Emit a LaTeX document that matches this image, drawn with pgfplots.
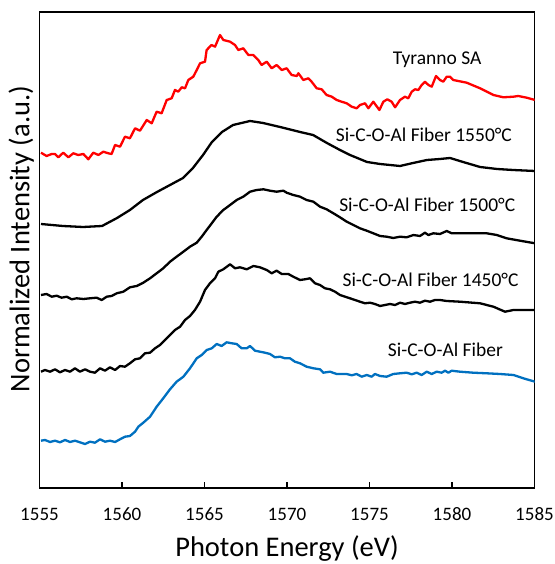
\documentclass[border=0pt]{standalone}
\usepackage{fontspec}
\setmainfont{Carlito}
\usepackage{pgfplots}
\pgfplotsset{compat=1.18}
\definecolor{xblue}{RGB}{0,112,192}
\definecolor{xred}{RGB}{255,0,0}

\begin{document}
\begin{tikzpicture}
\useasboundingbox (-39.5pt,-76pt) rectangle (514.5pt,488pt);
\begin{axis}[
  scale only axis, width=495pt, height=476pt,
  xmin=1555, xmax=1585, ymin=0, ymax=476,
  xtick={1555,1560,...,1585}, ytick=\empty,
  xtick pos=bottom, tick align=inside, major tick length=6pt,
  axis line style={line width=1.2pt},
  every tick/.style={black, line width=1.2pt},
  /pgf/number format/assume math mode=true,
  /pgf/number format/1000 sep={},
  xticklabel style={font=\fontsize{19}{19}\selectfont, anchor=base, yshift=-32pt},
  xlabel={Photon Energy (eV)},
  ylabel={Normalized Intensity (a.u.)},
  label style={font=\fontsize{28.5}{30}\selectfont},
  xlabel style={at={(axis description cs:0.5,0)}, anchor=base, yshift=-68pt},
  ylabel style={at={(axis description cs:-0.004,0.523)}, anchor=south},
  every axis plot/.append style={line width=2.3pt, line join=round},
]
% Tyranno SA
\addplot[xred] coordinates {
(1555.09,335.3)(1555.43,332)(1555.74,334)(1555.94,334)(1556.14,330.7)(1556.44,335.3)
(1556.75,330.7)(1557.05,334.7)(1557.35,333)(1557.66,334)(1557.96,328.7)(1558.26,335.3)
(1558.57,333)(1558.87,336.3)(1559.17,334.7)(1559.37,334)(1559.58,343)(1559.88,341.3)
(1560.18,351.3)(1560.48,349.7)(1560.79,359.7)(1561.09,357.3)(1561.50,368)(1561.80,364.7)
(1562.10,376.3)(1562.40,374.7)(1562.71,388)(1563.01,389.7)(1563.21,398)(1563.41,396.3)
(1563.62,400.7)(1563.82,399.7)(1564.02,408)(1564.32,411.3)(1564.53,418)(1564.73,424.7)
(1565.03,426.3)(1565.13,438)(1565.43,443)(1565.64,441.3)(1565.94,453)(1566.14,448)
(1566.55,446.3)(1566.85,443)(1567.05,438)(1567.35,439.7)(1567.66,433)(1567.96,433)
(1568.26,428)(1568.46,423)(1568.77,426.3)(1569.07,419.7)(1569.37,423)(1569.68,418)
(1569.98,419.7)(1570.28,413)(1570.59,412)(1570.69,414.7)(1570.99,408)(1571.29,409.7)
(1571.49,406.3)(1571.80,399.7)(1572.10,398.7)(1572.40,393)(1572.71,391.3)(1573.01,388)
(1573.31,386.3)(1573.62,384.7)(1573.92,381.3)(1574.22,379.7)(1574.42,383)(1574.73,384.7)
(1574.93,379.7)(1575.23,386.3)(1575.60,378)(1575.84,386.3)(1576.08,388.7)(1576.34,386.3)
(1576.55,380.7)(1576.85,388)(1577.15,391.3)(1577.35,389.7)(1577.56,396.3)(1577.76,398.7)
(1577.96,398)(1578.16,403)(1578.36,406.3)(1578.57,403)(1578.77,401.3)(1579.03,412)
(1579.27,408)(1579.47,406.3)(1579.68,411.3)(1579.88,411.3)(1580.08,408)(1580.89,405.3)
(1581.70,399.7)(1582.51,393)(1583.11,390.7)(1583.72,391.3)(1584.02,392)(1584.53,390.3)
(1585.03,388)
};
% 1550
\addplot[black] coordinates {
(1555.09,264)(1556.42,262)(1557.64,261)(1558.79,262)(1559.70,270)(1560.48,278)
(1561.27,288)(1562.12,296)(1562.91,303)(1563.70,310)(1564.30,320)(1564.91,333)
(1565.45,346)(1566.06,356)(1566.73,363)(1567.76,367)(1568.55,365)(1569.58,361)
(1570.79,356)(1571.58,353)(1572.42,345)(1573.21,338)(1573.82,333)(1574.85,326)
(1575.64,324)(1576.85,322)(1577.64,325)(1578.48,328)(1579.27,329)(1579.88,330)
(1580.67,326)(1581.70,321)(1582.73,319)(1583.70,318)(1585.03,317)
};
% 1500
\addplot[black] coordinates {
(1555.09,193)(1555.43,194)(1555.74,191.3)(1556.04,192.3)(1556.34,190.3)(1556.65,191.3)
(1556.95,188.7)(1557.25,189.7)(1557.66,189)(1558.06,189.7)(1558.46,190.3)(1558.77,188)
(1559.07,191.3)(1559.37,192)(1559.68,194.7)(1560.08,196.3)(1560.48,200.7)(1560.89,202)
(1561.29,205.3)(1561.70,209.7)(1562.10,214.7)(1562.50,219.7)(1562.91,226.3)(1563.31,231.3)
(1563.72,236.3)(1564.12,241.3)(1564.53,245.3)(1564.83,251.3)(1565.13,258)(1565.44,264.7)
(1565.74,271.3)(1566.14,278)(1566.55,283)(1566.95,288)(1567.35,291.3)(1567.76,296.3)
(1568.16,298)(1568.57,298.7)(1568.97,297.3)(1569.37,296.3)(1569.78,297.3)(1569.98,295.3)
(1570.38,293)(1570.79,291.3)(1571.19,288)(1571.60,286.3)(1572.00,281.3)(1572.40,278.7)
(1572.81,274.7)(1573.21,270.7)(1573.62,266.3)(1574.02,263)(1574.42,259.7)(1574.83,257.3)
(1575.23,254.7)(1575.64,252)(1576.04,251.3)(1576.44,250)(1576.85,251.3)(1577.25,250.7)
(1577.66,253)(1578.06,252)(1578.36,255.3)(1578.57,253)(1578.87,254.7)(1579.27,254)
(1579.68,257)(1579.98,254.7)(1580.48,254.7)(1581.29,254.7)(1582.10,254.7)(1582.71,253)
(1583.31,249.7)(1584.12,247.3)(1585.03,244.7)
};
% 1450
\addplot[black] coordinates {
(1555.09,116.3)(1555.33,118)(1555.64,116.3)(1555.94,118.7)(1556.24,115.7)(1556.55,118)
(1556.85,116.3)(1557.15,119.7)(1557.45,116.3)(1557.76,118.7)(1558.06,116.3)(1558.36,115.3)
(1558.67,119.7)(1558.97,117.3)(1559.27,120.7)(1559.58,118)(1559.88,122)(1560.18,121.3)
(1560.48,124.7)(1560.79,128.7)(1561.09,129.7)(1561.39,134.7)(1561.70,135.3)(1562.00,139.7)
(1562.30,143)(1562.61,148)(1562.91,153)(1563.21,158)(1563.52,161.3)(1563.82,168)
(1564.12,172)(1564.42,178)(1564.73,186.3)(1565.03,198)(1565.33,204.7)(1565.64,209.7)
(1565.84,216.3)(1566.14,218.7)(1566.55,223.7)(1566.85,219.7)(1567.15,220.7)(1567.56,218.7)
(1567.96,222)(1568.36,220.7)(1568.77,218)(1569.07,214.7)(1569.37,217.3)(1569.68,214)
(1570.08,214)(1570.38,211.3)(1570.79,208)(1571.09,208.7)(1571.39,209.7)(1571.70,204.7)
(1572.00,203)(1572.30,199.7)(1572.61,198.7)(1572.91,196.3)(1573.21,193)(1573.52,191.3)
(1573.82,189.7)(1574.12,188)(1574.42,186.3)(1574.73,184.7)(1575.03,185.3)(1575.33,184)
(1575.64,182)(1575.94,183)(1576.24,184)(1576.55,183)(1576.85,185.3)(1577.15,184)
(1577.45,185.3)(1577.76,186.3)(1578.06,185.3)(1578.36,187.3)(1578.67,186.3)(1578.97,188)
(1579.27,188)(1579.68,187)(1580.48,186.3)(1581.70,184.7)(1582.51,181.3)(1583.21,176.3)
(1583.72,178)(1585.03,178)
};
% Si-C-O-Al Fiber
\addplot[xblue] coordinates {
(1555.09,47.3)(1555.33,48)(1555.64,46)(1555.94,47.3)(1556.24,45.7)(1556.55,48)
(1556.85,46)(1557.15,47.3)(1557.45,45.7)(1557.76,44)(1558.06,46.3)(1558.36,45.3)
(1558.67,48.7)(1558.97,46.3)(1559.27,47.3)(1559.58,46)(1559.88,48.7)(1560.18,51.3)
(1560.48,52)(1560.79,56.3)(1560.99,61.3)(1561.29,65.3)(1561.70,71.3)(1562.10,81.3)
(1562.50,89.7)(1562.91,98.7)(1563.31,106.3)(1563.72,111.3)(1564.12,119.7)(1564.53,129.7)
(1564.83,133)(1565.13,138)(1565.44,139.7)(1565.74,144)(1566.04,142)(1566.34,145.7)
(1566.65,144.7)(1566.95,144)(1567.25,139.7)(1567.56,139.7)(1567.76,142)(1568.06,137.3)
(1568.36,136.3)(1568.67,135.3)(1568.97,134)(1569.27,130.7)(1569.58,131.3)(1569.88,129.7)
(1570.18,129.7)(1570.48,126.3)(1570.79,124.7)(1571.19,121.3)(1571.60,119.7)(1572.00,118.7)
(1572.20,115.3)(1572.61,116.3)(1573.01,114)(1573.62,114)(1573.92,112.7)(1574.22,114)
(1574.53,111.3)(1574.83,113)(1575.13,111.3)(1575.33,114)(1575.64,112)(1576.04,111.3)
(1576.44,114)(1576.85,114.7)(1577.25,115.3)(1577.56,113.7)(1577.86,115.3)(1578.16,113)
(1578.47,116.3)(1578.77,114)(1579.07,116.3)(1579.37,115.3)(1579.58,117.3)(1579.78,115.3)
(1579.98,117.3)(1580.48,116.3)(1581.29,115.3)(1582.10,114.7)(1582.91,114)(1583.72,113)
(1584.32,109.7)(1585.03,106.3)
};
\begin{scope}[every node/.style={font=\fontsize{19.5}{20}\selectfont, anchor=center}]
\node at (axis cs:1579.1,428) {Tyranno SA};
\node at (axis cs:1578.3,353) {Si-C-O-Al Fiber 1550°C};
\node at (axis cs:1578.5,283) {Si-C-O-Al Fiber 1500°C};
\node at (axis cs:1578.7,208) {Si-C-O-Al Fiber 1450°C};
\node at (axis cs:1579.6,138) {Si-C-O-Al Fiber};
\end{scope}
\end{axis}
\end{tikzpicture}
\end{document}
